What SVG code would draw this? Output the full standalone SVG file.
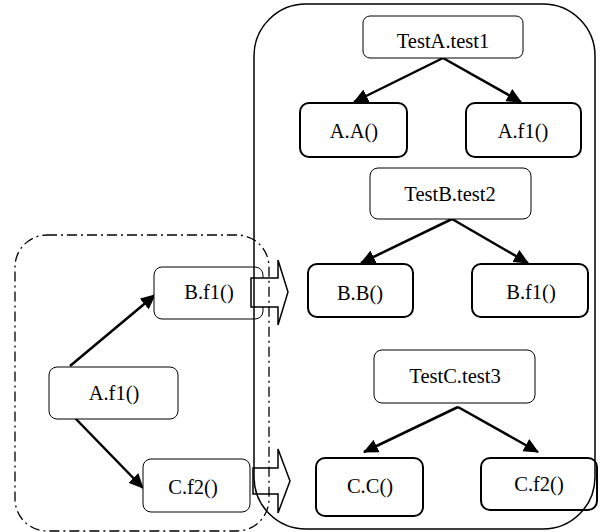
<svg xmlns="http://www.w3.org/2000/svg" width="608" height="532" viewBox="0 0 608 532">
<style>
text{font-size:20.5px;fill:#000;text-anchor:middle}
.thin{fill:#fff;stroke:#000;stroke-width:1}
.thick{fill:#fff;stroke:#000;stroke-width:2}
.conn{stroke:#000;stroke-width:2.5;fill:none}
.block{fill:#fff;stroke:#000;stroke-width:1.5;stroke-linejoin:miter}
</style>
<defs>
<marker id="ah" markerUnits="userSpaceOnUse" markerWidth="16" markerHeight="16" viewBox="0 0 16 16" refX="14" refY="8" orient="auto">
<path d="M0,1 L15,8 L0,15 Z" fill="#000"/>
</marker>
</defs>
<rect x="0" y="0" width="608" height="532" fill="#fff"/>

<g id="connectors">
<line class="conn" x1="443" y1="58" x2="354" y2="102" marker-end="url(#ah)"/>
<line class="conn" x1="443" y1="58" x2="521" y2="102" marker-end="url(#ah)"/>
<line class="conn" x1="452" y1="219" x2="361" y2="263" marker-end="url(#ah)"/>
<line class="conn" x1="452" y1="219" x2="528" y2="263" marker-end="url(#ah)"/>
<line class="conn" x1="458" y1="407" x2="364" y2="452" marker-end="url(#ah)"/>
<line class="conn" x1="458" y1="407" x2="538" y2="452" marker-end="url(#ah)"/>
<line class="conn" x1="70" y1="366" x2="155" y2="295" marker-end="url(#ah)"/>
<line class="conn" x1="75" y1="418" x2="143" y2="488" marker-end="url(#ah)"/>
</g>

<g font-family="'Liberation Serif', 'Times New Roman', serif">
<g id="TestA.test1"><rect class="thin" x="363" y="16" width="160" height="42" rx="7"/><text x="443" y="48">TestA.test1</text></g>
<g id="A.A"><rect class="thick" x="300" y="103" width="107" height="54" rx="9"/><text x="354" y="138">A.A()</text></g>
<g id="A.f1_right"><rect class="thick" x="466" y="103" width="115" height="54" rx="9"/><text x="523" y="138">A.f1()</text></g>
<g id="TestB.test2"><rect class="thin" x="370" y="168" width="161" height="51" rx="8"/><text x="450" y="201">TestB.test2</text></g>
<g id="B.B"><rect class="thick" x="308" y="264" width="105" height="53" rx="9"/><text x="360" y="300">B.B()</text></g>
<g id="B.f1_right"><rect class="thick" x="472" y="264" width="116" height="53" rx="9"/><text x="531" y="299">B.f1()</text></g>
<g id="TestC.test3"><rect class="thin" x="374" y="350" width="161" height="53" rx="8"/><text x="455" y="383">TestC.test3</text></g>
<g id="C.C"><rect class="thick" x="316" y="458" width="107" height="58" rx="9"/><text x="370" y="493">C.C()</text></g>
<g id="C.f2_right"><rect class="thick" x="481" y="458" width="116" height="52" rx="9"/><text x="539" y="491">C.f2()</text></g>
<g id="B.f1_left"><rect class="thin" x="154" y="267" width="109" height="52" rx="8"/><text x="209" y="299">B.f1()</text></g>
<g id="A.f1_left"><rect class="thin" x="49" y="367" width="129" height="52" rx="8"/><text x="114" y="400">A.f1()</text></g>
<g id="C.f2_left"><rect class="thin" x="143" y="459" width="107" height="53" rx="8"/><text x="193" y="494">C.f2()</text></g>
</g>

<g id="block-arrows">
<polygon class="block" points="251,278 278,278 278,260 288,292 278,325 278,307 251,307"/>
<polygon class="block" points="253,468 278,468 278,449 290,481 278,513 278,494 253,494"/>
</g>

<g id="test-container"><rect x="254" y="4" width="341" height="525" rx="52" fill="none" stroke="#000" stroke-width="1.5"/></g>
<g id="call-group"><rect x="15" y="235" width="254" height="296" rx="32" fill="none" stroke="#000" stroke-width="1.3" stroke-dasharray="10,4,2,4"/></g>
</svg>
